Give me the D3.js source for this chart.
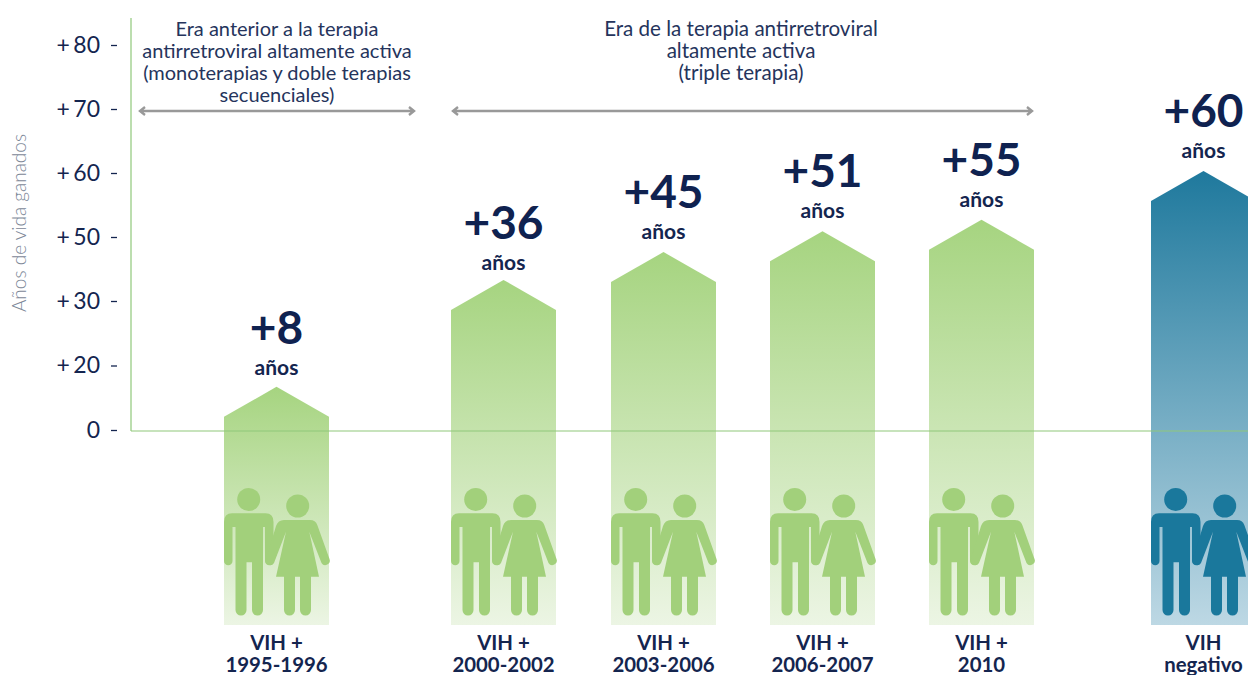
<!DOCTYPE html>
<html>
<head>
<meta charset="utf-8">
<script src="https://cdn.jsdelivr.net/npm/d3@7"></script>
<style>
html, body { margin: 0; padding: 0; background: #fff; overflow: hidden; }
text { font-family: Lato, sans-serif; }
</style>
</head>
<body>
<div id="chart"></div>
<script>
// data
var categories = ["1995-1996", "2000-2002", "2003-2006", "2006-2007", "2010", "negativo"];
var categoryHead = ["VIH +", "VIH +", "VIH +", "VIH +", "VIH +", "VIH"];
var gainLabels = ["+8", "+36", "+45", "+51", "+55", "+60"];
// height of each arrow tip read against the printed axis
var tipValues = [13.4, 36.6, 45.3, 50.9, 52.7, 60.3];
var tickValues = [0, 20, 30, 50, 60, 70, 80];
var tickLabels = ["0", "+ 20", "+ 30", "+ 50", "+ 60", "+ 70", "+ 80"];
var eraOneLines = ["Era anterior a la terapia", "antirretroviral altamente activa", "(monoterapias y doble terapias", "secuenciales)"];
var eraTwoLines = ["Era de la terapia antirretroviral", "altamente activa", "(triple terapia)"];

var width = 1248;
var height = 675;
var svgElement;

// layout
var axisX = 131;
var zeroY = 431;
var barBottom = 625;
var barWidth = 105;
var shoulderDrop = 30;
var navy = "#14254f";
var labelNudge = [1, 3, 0, 0, 0, 0];

// the printed axis is evenly spaced but its labels are not
var y = d3.scaleLinear()
    .domain(tickValues)
    .range([430, 365.5, 301, 237, 173, 109, 45]);

var x = d3.scaleOrdinal()
    .domain(categories)
    .range([276.5, 503.5, 663.5, 822.5, 981.5, 1203.5]);

var manBody = "M8,25.3 H41.5 Q49.5,25.3 49.5,34 V73 A4.25,4.25 0 0 1 41,73 V39 H39 V122 A5.5,5.5 0 0 1 28,122 V74.3 H22.5 V122 A5.5,5.5 0 0 1 11.5,122 V39 H8.5 V73 A4.25,4.25 0 0 1 0,73 V34 Q0,25.3 8,25.3 Z";
var womanBody = "M60,32 H86 Q91.5,32 93.3,37 L105.5,71 A4.5,4.5 0 0 1 97.5,75 L85.3,43.7 L95,88.7 H87 V122 A5.5,5.5 0 0 1 76,122 V88.7 H71 V122 A5.5,5.5 0 0 1 60,122 V88.7 H52 L62,43.7 L50,75 A4.5,4.5 0 0 1 42,71 L52,38 Q54,32 60,32 Z";

function main() {
    svgElement = d3.select("#chart").append("svg")
        .attr("width", width)
        .attr("height", height)
        .style("display", "block");

    addGradient("greenFade", "#a6d480", "#ecf5e4");
    addGradient("blueFade", "#1f799d", "#bdd8e4");

    categories.forEach(function (cat, i) {
        drawBar(cat, i);
    });

    drawAxis();
    drawEras();
}

function addGradient(id, top, bottom) {
    var g = svgElement.append("defs").append("linearGradient")
        .attr("id", id)
        .attr("x1", 0).attr("y1", 0)
        .attr("x2", 0).attr("y2", 1);
    g.append("stop").attr("offset", "0%").attr("stop-color", top);
    g.append("stop").attr("offset", "100%").attr("stop-color", bottom);
}

function drawBar(cat, i) {
    var isBlue = cat == "negativo";
    var cx = x(cat);
    var left = cx - barWidth / 2;
    var right = cx + barWidth / 2;
    var tip = y(tipValues[i]);
    var iconColor = isBlue ? "#1a789c" : "#a2d07b";

    var outline = d3.path();
    outline.moveTo(left, barBottom);
    outline.lineTo(left, tip + shoulderDrop);
    outline.lineTo(cx, tip);
    outline.lineTo(right, tip + shoulderDrop);
    outline.lineTo(right, barBottom);
    outline.closePath();

    svgElement.append("path")
        .attr("d", outline.toString())
        .attr("fill", isBlue ? "url(#blueFade)" : "url(#greenFade)");

    var people = svgElement.append("g")
        .attr("transform", "translate(" + left + ",488)")
        .attr("fill", iconColor);
    people.append("circle").attr("cx", 24.7).attr("cy", 11.5).attr("r", 11.5);
    people.append("path").attr("d", manBody);
    people.append("circle").attr("cx", 73.7).attr("cy", 18).attr("r", 11.5);
    people.append("path").attr("d", womanBody);

    svgElement.append("text")
        .attr("x", cx).attr("y", tip - 44 + labelNudge[i])
        .attr("text-anchor", "middle")
        .attr("font-size", 46).attr("font-weight", 700)
        .attr("fill", "#0f2250")
        .text(gainLabels[i]);

    svgElement.append("text")
        .attr("x", cx).attr("y", tip - 13 + labelNudge[i])
        .attr("text-anchor", "middle")
        .attr("font-size", 21).attr("font-weight", 700)
        .attr("fill", navy)
        .text("años");

    svgElement.append("text")
        .attr("x", cx).attr("y", 650)
        .attr("text-anchor", "middle")
        .attr("font-size", 20.4).attr("font-weight", 700)
        .attr("fill", navy)
        .text(categoryHead[i]);

    svgElement.append("text")
        .attr("x", cx).attr("y", 672)
        .attr("text-anchor", "middle")
        .attr("font-size", 20.4).attr("font-weight", 700)
        .attr("fill", navy)
        .text(cat);
}

function drawAxis() {
    var axis = d3.axisLeft(y)
        .tickValues(tickValues)
        .tickSize(6)
        .tickPadding(11)
        .tickFormat(function (d) { return tickLabels[tickValues.indexOf(d)]; });

    var axisGroup = svgElement.append("g")
        .attr("transform", "translate(117,0)")
        .call(axis);
    axisGroup.select(".domain").remove();
    axisGroup.selectAll(".tick line").attr("stroke", navy).attr("stroke-width", 1.3);
    axisGroup.selectAll(".tick text")
        .attr("font-size", 23)
        .attr("word-spacing", -2.5)
        .attr("fill", navy)
        .style("font-family", "Lato, sans-serif");

    svgElement.append("line")
        .attr("x1", axisX).attr("x2", axisX)
        .attr("y1", 18).attr("y2", zeroY)
        .attr("stroke", "#8fc87a").attr("stroke-width", 1.2);
    svgElement.append("line")
        .attr("x1", axisX).attr("x2", width)
        .attr("y1", zeroY).attr("y2", zeroY)
        .attr("stroke", "#8fc87a").attr("stroke-width", 1.2);

    svgElement.append("text")
        .attr("transform", "translate(26,223) rotate(-90)")
        .attr("text-anchor", "middle")
        .attr("font-size", 19).attr("font-weight", 300)
        .attr("fill", "#7c8797")
        .text("Años de vida ganados");
}

function drawEras() {
    drawEra(eraOneLines, 277, 140, 414, 20);
    drawEra(eraTwoLines, 741, 453, 1032, 20.6);
}

function drawEra(lines, cx, x1, x2, fontSize) {
    lines.forEach(function (line, i) {
        svgElement.append("text")
            .attr("x", cx).attr("y", 36 + i * 22)
            .attr("text-anchor", "middle")
            .attr("font-size", fontSize)
            .attr("fill", "#25345c")
            .text(line);
    });

    var arrow = d3.path();
    arrow.moveTo(x1, 111);
    arrow.lineTo(x2, 111);
    arrow.moveTo(x1 + 5, 107);
    arrow.lineTo(x1, 111);
    arrow.lineTo(x1 + 5, 115);
    arrow.moveTo(x2 - 5, 107);
    arrow.lineTo(x2, 111);
    arrow.lineTo(x2 - 5, 115);

    svgElement.append("path")
        .attr("d", arrow.toString())
        .attr("fill", "none")
        .attr("stroke", "#999999")
        .attr("stroke-width", 2.4);
}

main();
</script>
</body>
</html>
